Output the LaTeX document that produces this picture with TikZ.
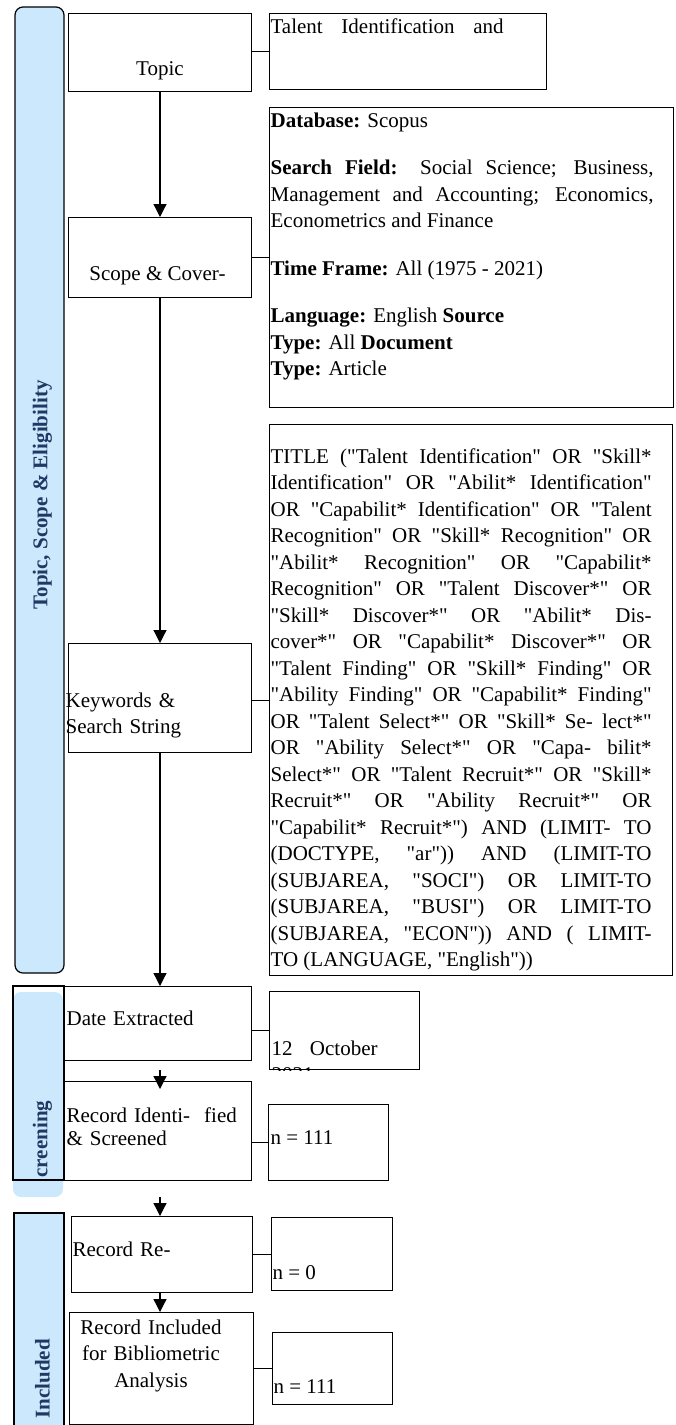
\documentclass[tikz,border=0pt]{standalone}
\usepackage{fontspec}
\setmainfont{Liberation Serif}[Ligatures=TeXOff]
\usepackage{tikz}
\usetikzlibrary{arrows.meta}
\definecolor{bandblue}{RGB}{204,232,252}
\definecolor{bandtext}{RGB}{31,56,100}
\tolerance=10000
\hbadness=10000
\hyphenpenalty=10000
\exhyphenpenalty=10000

\begin{document}
\begin{tikzpicture}[x=1pt,y=-1pt,line width=1.2pt,
every node/.style={font=\fontsize{21}{26.5}\selectfont,inner sep=0pt},
box/.style n args={2}{draw,anchor=north west,minimum width=#1pt,minimum height=#2pt},
txt/.style={anchor=base west,text width=#1pt,align=left},
band/.style={font=\fontsize{21}{26.5}\selectfont\bfseries,text=bandtext,rotate=90},
arr/.style={-{Triangle[width=13pt,length=13pt]}}]
\useasboundingbox (0,0) rectangle (675,1425);
\draw[fill=bandblue,rounded corners=8pt] (15,7) rectangle (64,973);
\fill[bandblue,rounded corners=8pt] (13,992) rectangle (63,1197);
\draw (13,986) rectangle (64,1180);
\draw[fill=bandblue] (14,1213) rectangle (64,1440);
\node[band] (band-tse) at (42.5,495) {Topic, Scope \& Eligibility};
\node[band,anchor=west] (band-scr) at (42.5,1178) {creening};
\node[band,anchor=west] (band-inc) at (42.5,1419) {Included};

\node[box={183}{78}] (topic) at (68,13) {};
\node[box={183}{80}] (scope) at (68,217) {};
\node[box={183}{109}] (kw) at (68,643) {};
\node[box={187}{74}] (date) at (64,986) {};
\node[box={187}{99}] (ident) at (64,1081) {};
\node[box={181}{76}] (rre) at (71,1216) {};
\node[box={184}{112}] (incl) at (69,1312) {};
\node[box={277}{76}] (talent) at (269,13) {};
\node[box={404}{300}] (db) at (269,107) {};
\node[box={403}{551}] (query) at (269,424) {};
\node[box={150}{78}] (oct) at (269,991) {};
\node[box={120}{76}] (nid) at (268,1104) {};
\node[box={121}{73}] (nre) at (271,1217) {};
\node[box={120}{72}] (ninc) at (272,1332) {};

\node[anchor=base] (topic-t) at (160,75) {Topic};
\node[anchor=base] (scope-t) at (157.5,280) {Scope \& Cover-};
\node[txt=190] (kw-t) at (65,707) {Keywords \&\\Search String};
\node[txt=185] (date-t) at (66,1025) {Date Extracted};
\node[txt=185] (ident-t) at (66,1122) {Record Identi-\ \ fied\\[-3pt]\& Screened};
\node[txt=175] (rre-t) at (72,1256) {Record Re-};
\node[anchor=base,text width=182pt,align=center] (incl-t) at (151,1334) {Record Included\\for Bibliometric\\Analysis};
\node[anchor=base west] (talent-t) at (270,33) {\makebox[233pt][s]{Talent Identification and}};
\node[anchor=base west,text width=383pt,align=justify] (db-t) at (270,127) {\parskip=21pt
\textbf{Database:} Scopus\par
\textbf{Search Field:} Social Science; Business,\linebreak
Management and Accounting; Economics,\linebreak
Econometrics and Finance\par
\textbf{Time Frame:} All (1975 - 2021)\par
\textbf{Language:} English \textbf{Source}\\
\textbf{Type:} All \textbf{Document}\\
\textbf{Type:} Article};
\node[anchor=base west,text width=381pt,align=justify] (query-t) at (270,463) {%
TITLE ("Talent Identification" OR "Skill*\linebreak
Identification" OR "Abilit* Identification"\linebreak
OR "Capabilit* Identification" OR "Talent\linebreak
Recognition" OR "Skill* Recognition" OR\linebreak
"Abilit* Recognition" OR "Capabilit*\linebreak
Recognition" OR "Talent Discover*" OR\linebreak
"Skill* Discover*" OR "Abilit* Dis-\linebreak
cover*" OR "Capabilit* Discover*" OR\linebreak
"Talent Finding" OR "Skill* Finding" OR\linebreak
"Ability Finding" OR "Capabilit* Finding"\linebreak
OR "Talent Select*" OR "Skill* Se- lect*"\linebreak
OR "Ability Select*" OR "Capa- bilit*\linebreak
Select*" OR "Talent Recruit*" OR "Skill*\linebreak
Recruit*" OR "Ability Recruit*" OR\linebreak
"Capabilit* Recruit*") AND (LIMIT- TO\linebreak
(DOCTYPE, "ar")) AND (LIMIT-TO\linebreak
(SUBJAREA, "SOCI") OR LIMIT-TO\linebreak
(SUBJAREA, "BUSI") OR LIMIT-TO\linebreak
(SUBJAREA, "ECON")) AND ( LIMIT-\linebreak
TO (LANGUAGE, "English"))};
\node[anchor=base west] (oct-t) at (271,1055) {\makebox[106pt][s]{12 October}};
\begin{scope}
\clip (oct.north west) rectangle (oct.south east);
\node[anchor=base west] (oct-y) at (271,1081.5) {2021};
\end{scope}
\node[anchor=base west] (nid-t) at (270,1144) {n = 111};
\node[anchor=base west] (nre-t) at (272,1279) {n = 0};
\node[anchor=base west] (ninc-t) at (273,1393) {n = 111};

\coordinate (ax) at (160,0);
\foreach \a/\b in %
{topic/scope,scope/kw,kw/date,rre/incl} {
   \draw[arr] (\a.south -| ax) -- (\b.north -| ax);
}
\draw[arr,shorten <=9pt,shorten >=-8pt] (date.south -| ax) -- (ident.north -| ax);
\draw[arr,shorten <=16pt] (ident.south -| ax) -- (rre.north -| ax);
\foreach \a/\b in %
{topic/talent,scope/db,kw/query,date/oct,ident/nid,rre/nre,incl/ninc} {
   \draw[line width=1pt] (\b.west -| \a.east) -- (\b.west);
}
\end{tikzpicture}
\end{document}
